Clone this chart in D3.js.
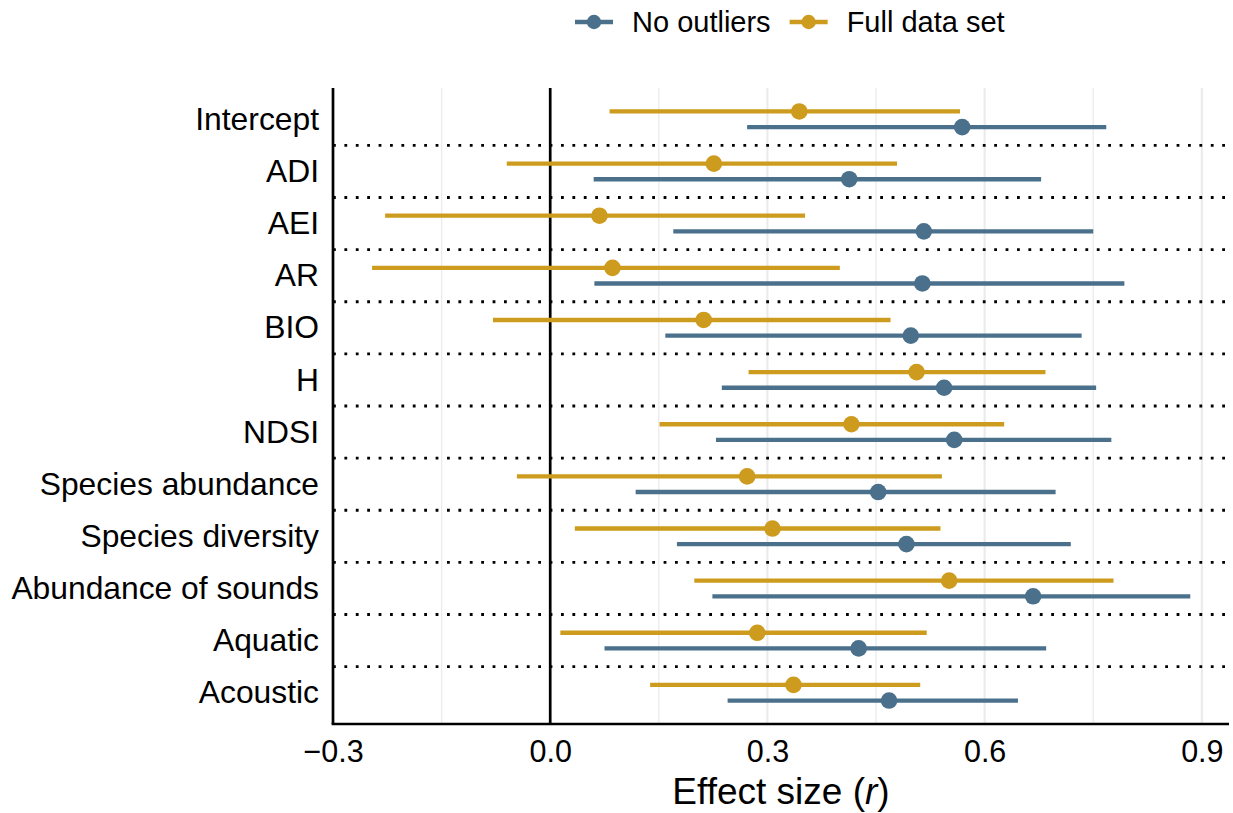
<!DOCTYPE html>
<head>
  <meta charset="utf-8">
  <script src="https://d3js.org/d3.v7.min.js"></script>
  <style>
    body { margin:0; background:#fff; }
    text { font-family: "Liberation Sans", Arial, sans-serif; fill:#000; }
  </style>
</head>
<body>
  <script>
    // categories, top to bottom
    const categories = ["Intercept", "ADI", "AEI", "AR", "BIO", "H", "NDSI",
      "Species abundance", "Species diversity", "Abundance of sounds", "Aquatic", "Acoustic"];

    // Full data set: estimate and interval
    const fullEst  = [0.344, 0.226, 0.068, 0.086, 0.212, 0.506, 0.416, 0.272, 0.307, 0.551, 0.286, 0.336];
    const fullLow  = [0.082, -0.060, -0.228, -0.246, -0.079, 0.274, 0.151, -0.046, 0.034, 0.199, 0.014, 0.138];
    const fullHigh = [0.566, 0.479, 0.352, 0.400, 0.470, 0.684, 0.627, 0.541, 0.539, 0.778, 0.520, 0.511];

    // No outliers: estimate and interval
    const noOutEst  = [0.569, 0.413, 0.516, 0.514, 0.498, 0.544, 0.558, 0.453, 0.492, 0.667, 0.426, 0.468];
    const noOutLow  = [0.272, 0.060, 0.170, 0.061, 0.159, 0.237, 0.229, 0.118, 0.175, 0.224, 0.075, 0.245];
    const noOutHigh = [0.768, 0.678, 0.750, 0.793, 0.734, 0.754, 0.775, 0.698, 0.719, 0.884, 0.685, 0.646];

    const xTicks = [-0.3, 0.0, 0.3, 0.6, 0.9];
    const xMinor = [-0.15, 0.15, 0.45, 0.75];

    const series = [
      {name: "Full data set", color: "#CD9B1D", est: fullEst, low: fullLow, high: fullHigh, side: -1},
      {name: "No outliers",   color: "#4A708B", est: noOutEst, low: noOutLow, high: noOutHigh, side: 1}
    ];

    const margin = {top: 88, right: 4, bottom: 89, left: 333},
      width = 1233 - margin.left - margin.right,
      height = 813 - margin.top - margin.bottom;

    const x = d3.scaleLinear()
      .domain([-0.3, 0.9375])
      .range([0, width]);

    const y = d3.scalePoint()
      .domain(categories)
      .range([0, height])
      .padding(0.6);

    const step = y.step();
    const dodge = step * 0.15;

    const svg = d3.select("body").append("svg")
      .attr("width", 1233)
      .attr("height", 813);

    const g = svg.append("g")
      .attr("transform", "translate(" + margin.left + "," + margin.top + ")");

    // grid
    g.selectAll(".minor").data(xMinor).enter().append("line")
      .attr("x1", d => x(d)).attr("x2", d => x(d))
      .attr("y1", 0).attr("y2", height)
      .attr("stroke", "#EBEBEB").attr("stroke-width", 1.3);

    g.selectAll(".major").data(xTicks.filter(d => d !== 0)).enter().append("line")
      .attr("x1", d => x(d)).attr("x2", d => x(d))
      .attr("y1", 0).attr("y2", height)
      .attr("stroke", "#EBEBEB").attr("stroke-width", 2.2);

    // zero line
    g.append("line")
      .attr("x1", x(0)).attr("x2", x(0))
      .attr("y1", 0).attr("y2", height)
      .attr("stroke", "#000").attr("stroke-width", 2.7);

    // dotted separators between categories
    g.selectAll(".sep").data(categories.slice(0, -1)).enter().append("line")
      .attr("x1", 0).attr("x2", width)
      .attr("y1", d => y(d) + step / 2).attr("y2", d => y(d) + step / 2)
      .attr("stroke", "#000")
      .attr("stroke-width", 2.8)
      .attr("stroke-dasharray", "2.8,8.6");

    // intervals and points
    series.forEach(function(s) {
      var rows = categories.map(function(c, i) {
        return {cat: c, est: s.est[i], low: s.low[i], high: s.high[i]};
      });
      g.selectAll(null).data(rows).enter().append("line")
        .attr("x1", d => x(d.low)).attr("x2", d => x(d.high))
        .attr("y1", d => y(d.cat) + s.side * dodge)
        .attr("y2", d => y(d.cat) + s.side * dodge)
        .attr("stroke", s.color).attr("stroke-width", 4.3);
      g.selectAll(null).data(rows).enter().append("circle")
        .attr("cx", d => x(d.est))
        .attr("cy", d => y(d.cat) + s.side * dodge)
        .attr("r", 8.3)
        .attr("fill", s.color);
    });

    // axes lines
    g.append("line")
      .attr("x1", 0).attr("x2", 0).attr("y1", 0).attr("y2", height)
      .attr("stroke", "#000").attr("stroke-width", 2.7);
    g.append("line")
      .attr("x1", -1.35).attr("x2", width).attr("y1", height).attr("y2", height)
      .attr("stroke", "#000").attr("stroke-width", 2.7);

    // x axis labels
    const xAxis = g.append("g")
      .attr("transform", "translate(0," + height + ")")
      .call(d3.axisBottom(x).tickValues(xTicks).tickFormat(d3.format(".1f")).tickSize(0).tickPadding(16));
    xAxis.select(".domain").remove();
    xAxis.selectAll("text")
      .attr("font-size", 30.5)
      .attr("font-family", "Liberation Sans, Arial, sans-serif")
      .attr("fill", "#000");

    // y axis labels
    const yAxis = g.append("g")
      .call(d3.axisLeft(y).tickSize(0).tickPadding(14));
    yAxis.select(".domain").remove();
    yAxis.selectAll("text")
      .attr("font-size", 31.8)
      .attr("font-family", "Liberation Sans, Arial, sans-serif")
      .attr("fill", "#000");

    // axis title
    const title = svg.append("text")
      .attr("x", margin.left + width / 2)
      .attr("y", 804)
      .attr("text-anchor", "middle")
      .attr("font-size", 37);
    title.append("tspan").text("Effect size (");
    title.append("tspan").attr("font-style", "italic").text("r");
    title.append("tspan").text(")");

    // legend
    const legendItems = [series[1], series[0]];
    const legend = svg.append("g").attr("transform", "translate(575,22)");
    var lx = 0;
    legendItems.forEach(function(s) {
      var item = legend.append("g").attr("transform", "translate(" + lx + ",0)");
      item.append("line")
        .attr("x1", 0).attr("x2", 38).attr("y1", 0).attr("y2", 0)
        .attr("stroke", s.color).attr("stroke-width", 4.3);
      item.append("circle").attr("cx", 19).attr("cy", 0).attr("r", 7.2).attr("fill", s.color);
      var t = item.append("text")
        .attr("x", 57).attr("y", 0).attr("dy", "0.36em")
        .attr("font-size", 29)
        .text(s.name);
      lx += 57 + t.node().getComputedTextLength() + 19;
    });
  </script>
</body>
